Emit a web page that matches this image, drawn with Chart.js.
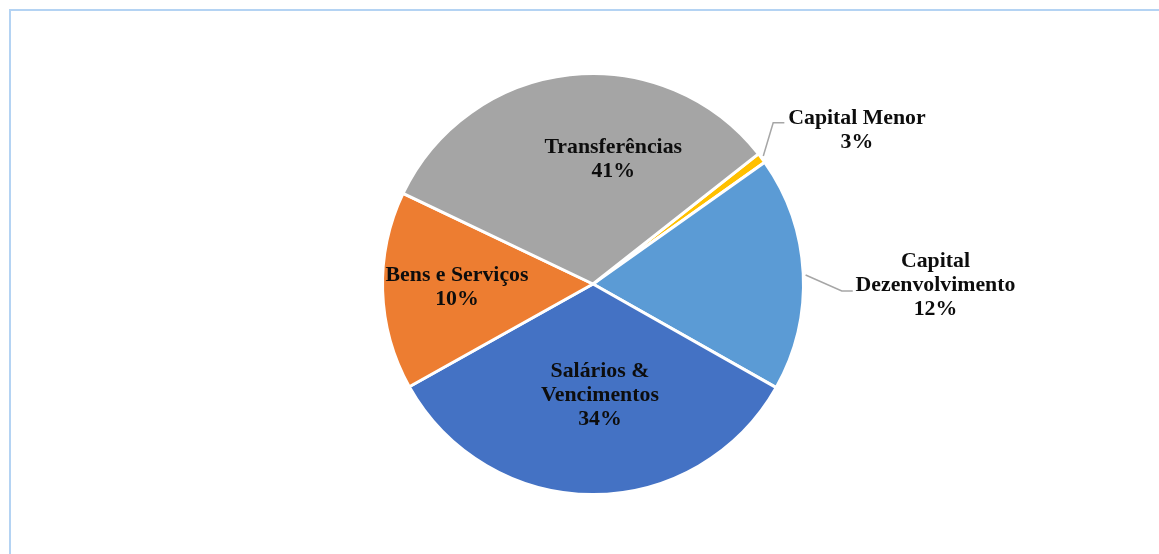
<!DOCTYPE html>
<html>
<head>
<meta charset="utf-8">
<script src="https://cdn.jsdelivr.net/npm/chart.js@4.4.1/dist/chart.umd.min.js"></script>
<style>
  html, body { margin: 0; padding: 0; background: #fff; overflow: hidden; }
  #frame { position: absolute; left: 9px; top: 9px; width: 1300px; height: 700px; border: 2px solid #B4D3F3; box-sizing: border-box; }
  #wrap { position: absolute; left: 0; top: 0; width: 1159px; height: 554px; }
</style>
</head>
<body>
<div id="frame"></div>
<div id="wrap"><canvas id="pie" width="1159" height="554"></canvas></div>
<script>
// Slice data (clockwise starting after Transferências)
const categories = ["Capital Menor", "Capital Dezenvolvimento", "Salários & Vencimentos", "Bens e Serviços", "Transferências"];
const sliceValues = [0.8, 18.0, 33.7, 15.2, 32.3];
// Percent texts printed on the original chart
const percentLabels = ["3%", "12%", "34%", "10%", "41%"];
const labelLines = [["Capital Menor"], ["Capital", "Dezenvolvimento"], ["Salários &", "Vencimentos"], ["Bens e Serviços"], ["Transferências"]];
const colors = ["#FFC000", "#5B9BD5", "#4472C4", "#ED7D31", "#A5A5A5"];

// label placement relative to pie centre, in radius units
const labelPos = [[1.254, -0.732], [1.627, 0.005], [0.033, 0.531], [-0.646, 0.014], [0.096, -0.593]];
const leaders = {
  0: [[0.809, -0.608], [0.856, -0.766], [0.909, -0.766]],
  1: [[1.010, -0.043], [1.182, 0.033], [1.234, 0.033]]
};

const labelPlugin = {
  id: "pieLabels",
  afterDatasetsDraw(chart) {
    const ctx = chart.ctx;
    const arc = chart.getDatasetMeta(0).data[0];
    const cx = arc.x, cy = arc.y, r = arc.outerRadius;
    ctx.save();
    // leader lines
    ctx.strokeStyle = "#A6A6A6";
    ctx.lineWidth = 1.5;
    Object.values(leaders).forEach(pts => {
      ctx.beginPath();
      pts.forEach((p, i) => {
        const x = cx + p[0] * r, y = cy + p[1] * r;
        if (i === 0) ctx.moveTo(x, y); else ctx.lineTo(x, y);
      });
      ctx.stroke();
    });
    // texts
    ctx.fillStyle = "#0D0D0D";
    ctx.font = "bold 21.8px 'Liberation Serif', 'Times New Roman', serif";
    ctx.textAlign = "center";
    ctx.textBaseline = "middle";
    const lh = 24;
    labelLines.forEach((lines, i) => {
      const all = lines.concat([percentLabels[i]]);
      const x = cx + labelPos[i][0] * r;
      const y0 = cy + labelPos[i][1] * r - (all.length - 1) * lh / 2;
      all.forEach((t, k) => ctx.fillText(t, x, y0 + k * lh));
    });
    ctx.restore();
  }
};

new Chart(document.getElementById("pie"), {
  type: "pie",
  data: {
    labels: categories,
    datasets: [{
      data: sliceValues,
      backgroundColor: colors,
      borderColor: "#ffffff",
      borderWidth: 3
    }]
  },
  options: {
    responsive: false,
    animation: false,
    rotation: 51.8,
    layout: { padding: { top: 72, bottom: 58, left: 27, right: 0 } },
    plugins: { legend: { display: false }, tooltip: { enabled: false } }
  },
  plugins: [labelPlugin]
});
</script>
</body>
</html>
